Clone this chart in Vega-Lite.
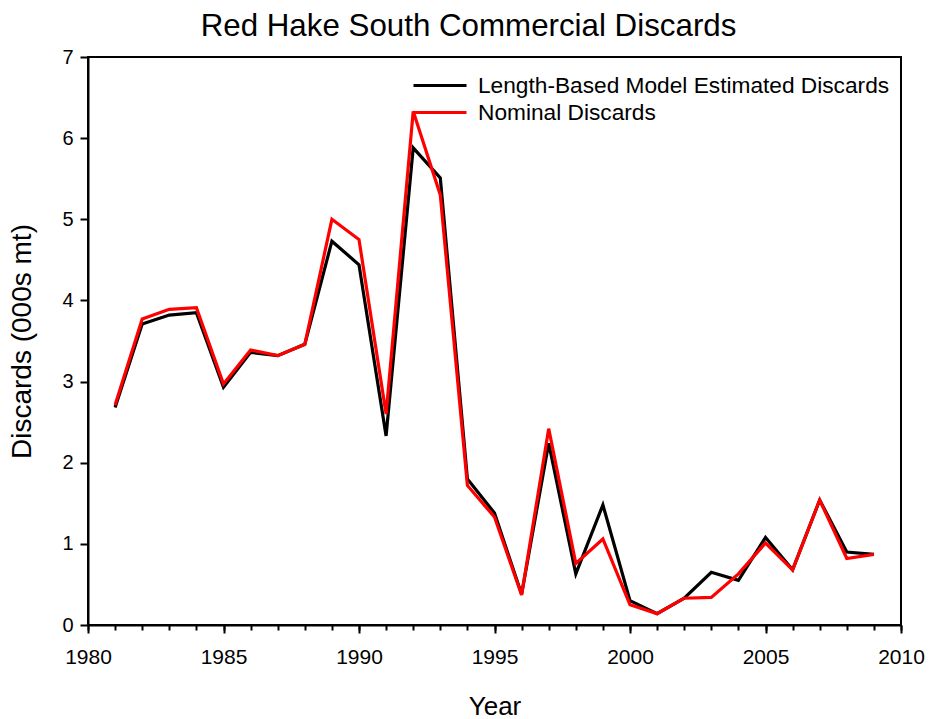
{
  "$schema": "https://vega.github.io/schema/vega-lite/v6.json",
  "autosize": "none",
  "width": 813,
  "height": 568,
  "padding": {"left": 88, "top": 57, "right": 30, "bottom": 94},
  "background": "white",
  "config": {
    "font": "Liberation Sans",
    "view": {"stroke": "black", "strokeWidth": 2},
    "axis": {
      "domainColor": "black",
      "domainWidth": 2,
      "tickColor": "black",
      "tickWidth": 2,
      "labelColor": "black",
      "titleColor": "black",
      "titleFontWeight": "normal",
      "grid": false
    }
  },
  "title": {
    "text": "Red Hake South Commercial Discards",
    "fontSize": 31.3,
    "fontWeight": "normal",
    "color": "black",
    "anchor": "middle",
    "frame": "group",
    "dx": -26,
    "offset": 5
  },
  "data": {
    "values": [
      {"year": 1981, "series": "Length-Based Model Estimated Discards", "discards": 2.68},
      {"year": 1982, "series": "Length-Based Model Estimated Discards", "discards": 3.71},
      {"year": 1983, "series": "Length-Based Model Estimated Discards", "discards": 3.82},
      {"year": 1984, "series": "Length-Based Model Estimated Discards", "discards": 3.85},
      {"year": 1985, "series": "Length-Based Model Estimated Discards", "discards": 2.93},
      {"year": 1986, "series": "Length-Based Model Estimated Discards", "discards": 3.36},
      {"year": 1987, "series": "Length-Based Model Estimated Discards", "discards": 3.32},
      {"year": 1988, "series": "Length-Based Model Estimated Discards", "discards": 3.46},
      {"year": 1989, "series": "Length-Based Model Estimated Discards", "discards": 4.73},
      {"year": 1990, "series": "Length-Based Model Estimated Discards", "discards": 4.44},
      {"year": 1991, "series": "Length-Based Model Estimated Discards", "discards": 2.33},
      {"year": 1992, "series": "Length-Based Model Estimated Discards", "discards": 5.88},
      {"year": 1993, "series": "Length-Based Model Estimated Discards", "discards": 5.51},
      {"year": 1994, "series": "Length-Based Model Estimated Discards", "discards": 1.80},
      {"year": 1995, "series": "Length-Based Model Estimated Discards", "discards": 1.38},
      {"year": 1996, "series": "Length-Based Model Estimated Discards", "discards": 0.38},
      {"year": 1997, "series": "Length-Based Model Estimated Discards", "discards": 2.24},
      {"year": 1998, "series": "Length-Based Model Estimated Discards", "discards": 0.63},
      {"year": 1999, "series": "Length-Based Model Estimated Discards", "discards": 1.48},
      {"year": 2000, "series": "Length-Based Model Estimated Discards", "discards": 0.30},
      {"year": 2001, "series": "Length-Based Model Estimated Discards", "discards": 0.14},
      {"year": 2002, "series": "Length-Based Model Estimated Discards", "discards": 0.33},
      {"year": 2003, "series": "Length-Based Model Estimated Discards", "discards": 0.65},
      {"year": 2004, "series": "Length-Based Model Estimated Discards", "discards": 0.55},
      {"year": 2005, "series": "Length-Based Model Estimated Discards", "discards": 1.08},
      {"year": 2006, "series": "Length-Based Model Estimated Discards", "discards": 0.68},
      {"year": 2007, "series": "Length-Based Model Estimated Discards", "discards": 1.54},
      {"year": 2008, "series": "Length-Based Model Estimated Discards", "discards": 0.90},
      {"year": 2009, "series": "Length-Based Model Estimated Discards", "discards": 0.87},
      {"year": 1981, "series": "Nominal Discards", "discards": 2.71},
      {"year": 1982, "series": "Nominal Discards", "discards": 3.77},
      {"year": 1983, "series": "Nominal Discards", "discards": 3.89},
      {"year": 1984, "series": "Nominal Discards", "discards": 3.91},
      {"year": 1985, "series": "Nominal Discards", "discards": 2.97},
      {"year": 1986, "series": "Nominal Discards", "discards": 3.39},
      {"year": 1987, "series": "Nominal Discards", "discards": 3.32},
      {"year": 1988, "series": "Nominal Discards", "discards": 3.46},
      {"year": 1989, "series": "Nominal Discards", "discards": 5.00},
      {"year": 1990, "series": "Nominal Discards", "discards": 4.75},
      {"year": 1991, "series": "Nominal Discards", "discards": 2.60},
      {"year": 1992, "series": "Nominal Discards", "discards": 6.33},
      {"year": 1993, "series": "Nominal Discards", "discards": 5.30},
      {"year": 1994, "series": "Nominal Discards", "discards": 1.72},
      {"year": 1995, "series": "Nominal Discards", "discards": 1.33},
      {"year": 1996, "series": "Nominal Discards", "discards": 0.37},
      {"year": 1997, "series": "Nominal Discards", "discards": 2.42},
      {"year": 1998, "series": "Nominal Discards", "discards": 0.76},
      {"year": 1999, "series": "Nominal Discards", "discards": 1.06},
      {"year": 2000, "series": "Nominal Discards", "discards": 0.25},
      {"year": 2001, "series": "Nominal Discards", "discards": 0.14},
      {"year": 2002, "series": "Nominal Discards", "discards": 0.33},
      {"year": 2003, "series": "Nominal Discards", "discards": 0.34},
      {"year": 2004, "series": "Nominal Discards", "discards": 0.63},
      {"year": 2005, "series": "Nominal Discards", "discards": 1.01},
      {"year": 2006, "series": "Nominal Discards", "discards": 0.68},
      {"year": 2007, "series": "Nominal Discards", "discards": 1.54},
      {"year": 2008, "series": "Nominal Discards", "discards": 0.82},
      {"year": 2009, "series": "Nominal Discards", "discards": 0.87}
    ]
  },
  "layer": [
    {
      "mark": {"type": "line", "strokeWidth": 3.2, "strokeJoin": "miter"},
      "encoding": {
        "x": {
          "field": "year",
          "type": "quantitative",
          "scale": {"domain": [1980, 2010], "nice": false, "zero": false},
          "axis": {
            "orient": "bottom",
            "values": [1980, 1985, 1990, 1995, 2000, 2005, 2010],
            "format": "d",
            "tickSize": 8,
            "labelFontSize": 21,
            "labelPadding": 13,
            "labelFlush": false,
            "title": "Year",
            "titleFontSize": 26,
            "titlePadding": 26
          }
        },
        "y": {
          "field": "discards",
          "type": "quantitative",
          "scale": {"domain": [0, 7], "nice": false},
          "axis": {
            "values": [0, 1, 2, 3, 4, 5, 6, 7],
            "format": "d",
            "tickSize": 8,
            "labelFontSize": 20,
            "labelPadding": 7,
            "labelFlush": false,
            "title": "Discards (000s mt)",
            "titleFontSize": 28,
            "titlePadding": 25
          }
        },
        "color": {
          "field": "series",
          "type": "nominal",
          "scale": {
            "domain": ["Length-Based Model Estimated Discards", "Nominal Discards"],
            "range": ["black", "#ff0000"]
          },
          "legend": {
            "title": null,
            "orient": "none",
            "legendX": 324,
            "legendY": 15,
            "padding": 0,
            "symbolType": "stroke",
            "symbolSize": 2809,
            "symbolStrokeWidth": 3,
            "clipHeight": 27,
            "labelFontSize": 22.7,
            "labelColor": "black",
            "labelLimit": 600,
            "labelOffset": 10,
            "rowPadding": 0
          }
        }
      }
    },
    {
      "mark": {"type": "line", "strokeOpacity": 0},
      "encoding": {
        "x": {
          "field": "year",
          "type": "quantitative",
          "axis": {
            "orient": "bottom",
            "values": [1980, 1981, 1982, 1983, 1984, 1985, 1986, 1987, 1988, 1989, 1990, 1991, 1992, 1993, 1994, 1995, 1996, 1997, 1998, 1999, 2000, 2001, 2002, 2003, 2004, 2005, 2006, 2007, 2008, 2009, 2010],
            "labels": false,
            "domain": false,
            "tickSize": 5,
            "title": null
          }
        },
        "y": {"field": "discards", "type": "quantitative"},
        "detail": {"field": "series"}
      }
    }
  ],
  "resolve": {"axis": {"x": "independent"}}
}
